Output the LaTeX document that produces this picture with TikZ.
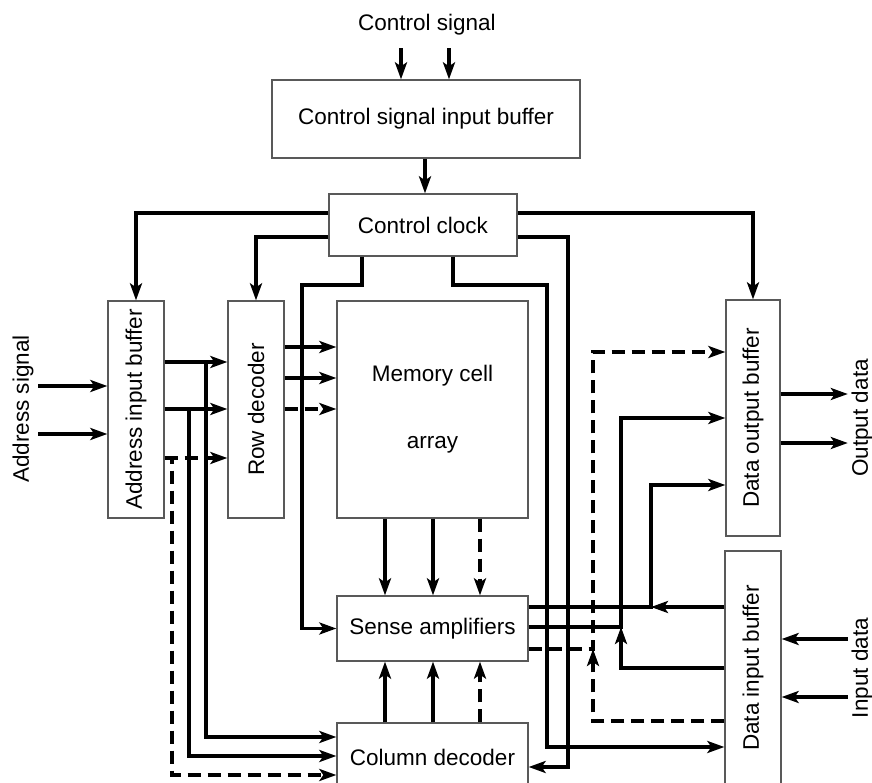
\documentclass[tikz,border=0pt]{standalone}
\usepackage{fontspec}
\setmainfont{Liberation Sans}
\usetikzlibrary{arrows.meta,positioning}

\begin{document}
\begin{tikzpicture}[
		x=1pt, y=-1pt,
		font=\fontsize{22.5}{27}\selectfont,
		box/.style={draw=black!65, line width=1.3pt, fill=white, align=center, inner sep=0pt},
		label/.style={inner sep=0pt, align=center},
		wire/.style={line width=3.2pt},
		arrow/.style={wire, -{Stealth[length=17pt, width=12pt, inset=4pt]}},
		dashwire/.style={dash pattern=on 13pt off 7pt}
		]
		\useasboundingbox (0,0) rectangle (872,783);
		
		% --- Top row ---
		\node[label, minimum height=46pt] (csig) at (427,25) {Control signal};
		\node[box, minimum width=308pt, minimum height=78pt] (cib) at (426,119)
		{Control signal input buffer};
		\node[box, minimum width=188pt, minimum height=62pt] (clk) at (423,225)
		{Control clock};
		
		% --- Middle row ---
		\node[label, minimum width=30pt] (asig) at (23,409) {\rotatebox{90}{Address signal}};
		\node[box, minimum width=56pt, minimum height=217pt] (aib) at (136,409.5)
		{\rotatebox{90}{Address input buffer}};
		\node[box, minimum width=56pt, minimum height=217pt] (rdec) at (256,409.5)
		{\rotatebox{90}{Row decoder}};
		\node[box, minimum width=191pt, minimum height=217pt] (mem) at (432.5,409.5)
		{Memory cell \\[40pt] array};
		\node[box, minimum width=54pt, minimum height=236pt] (dob) at (753,418)
		{\rotatebox{90}{Data output buffer}};
		\node[label, minimum width=28pt] (odata) at (862,418) {\rotatebox{90}{Output data}};
		
		% --- Bottom row ---
		\node[box, minimum width=191pt, minimum height=65pt] (sa) at (432.5,628.5)
		{Sense amplifiers};
		\node[box, minimum width=191pt, minimum height=68pt] (cdec) at (432.5,757)
		{Column decoder};
		\node[box, minimum width=56pt, minimum height=234pt] (dib) at (753,668)
		{\rotatebox{90}{Data input buffer}};
		\node[label, minimum width=28pt] (idata) at (862,668) {\rotatebox{90}{Input data}};
		
		% --- Control path ---
		\draw[arrow] (csig.south -| 401,0) -- (cib.north -| 401,0);
		\draw[arrow] (csig.south -| 449,0) -- (cib.north -| 449,0);
		\draw[arrow] (cib.south -| 425,0) -- (clk.north -| 425,0);
		
		\draw[arrow] (clk.west |- 0,213) -| (aib.north);
		\draw[arrow] (clk.west |- 0,237) -| (rdec.north);
		\draw[arrow] (clk.east |- 0,213) -| (dob.north);
		\draw[arrow] (clk.east |- 0,237) -| (568,767) -- (cdec.east |- 0,767);
		\draw[arrow] (clk.south -| 362,0) |- (302,285) |- (sa.west);
		\draw[arrow] (clk.south -| 453,0) |- (547,285) |- (dib.west |- 0,747);
		
		% --- Address path ---
		\draw[arrow] (asig.east |- 0,386) -- (aib.west |- 0,386);
		\draw[arrow] (asig.east |- 0,434) -- (aib.west |- 0,434);
		
		\draw[arrow] (aib.east |- 0,362) -- (rdec.west |- 0,362);
		\draw[arrow] (aib.east |- 0,409) -- (rdec.west |- 0,409);
		\draw[arrow,dashwire] (aib.east |- 0,458) -- (rdec.west |- 0,458);
		
		\draw[arrow] (206,362) |- (cdec.west |- 0,737);
		\draw[arrow] (189,409) |- (cdec.west |- 0,756);
		\draw[arrow,dashwire] (aib.east |- 0,458) -| (172,775) -- (cdec.west |- 0,775);
		
		\draw[arrow] (rdec.east |- 0,347) -- (mem.west |- 0,347);
		\draw[arrow] (rdec.east |- 0,378) -- (mem.west |- 0,378);
		\draw[arrow,dashwire] (rdec.east |- 0,409) -- (mem.west |- 0,409);
		
		% --- Array, sense amplifiers and column decoder ---
		\draw[arrow] (mem.south -| 385,0) -- (sa.north -| 385,0);
		\draw[arrow] (mem.south -| 433,0) -- (sa.north -| 433,0);
		\draw[arrow,dashwire] (mem.south -| 480,0) -- (sa.north -| 480,0);
		
		\draw[arrow] (cdec.north -| 385,0) -- (sa.south -| 385,0);
		\draw[arrow] (cdec.north -| 433,0) -- (sa.south -| 433,0);
		\draw[arrow,dashwire] (cdec.north -| 480,0) -- (sa.south -| 480,0);
		
		% --- Data path ---
		\draw[arrow] (sa.east |- 0,607) -| (651,485) -- (dob.west |- 0,485);
		\draw[arrow] (dib.west |- 0,607) -- (651,607);
		\draw[arrow] (sa.east |- 0,627) -| (621,418) -- (dob.west |- 0,418);
		\draw[arrow] (dib.west |- 0,668) -| (621,627);
		\draw[arrow,dashwire] (sa.east |- 0,649) -| (593,352) -- (dob.west |- 0,352);
		\draw[arrow,dashwire] (dib.west |- 0,721) -| (593,649);
		
		\draw[arrow] (dob.east |- 0,394) -- (odata.west |- 0,394);
		\draw[arrow] (dob.east |- 0,443) -- (odata.west |- 0,443);
		\draw[arrow] (idata.west |- 0,639) -- (dib.east |- 0,639);
		\draw[arrow] (idata.west |- 0,697) -- (dib.east |- 0,697);
		
	\end{tikzpicture}
\end{document}
